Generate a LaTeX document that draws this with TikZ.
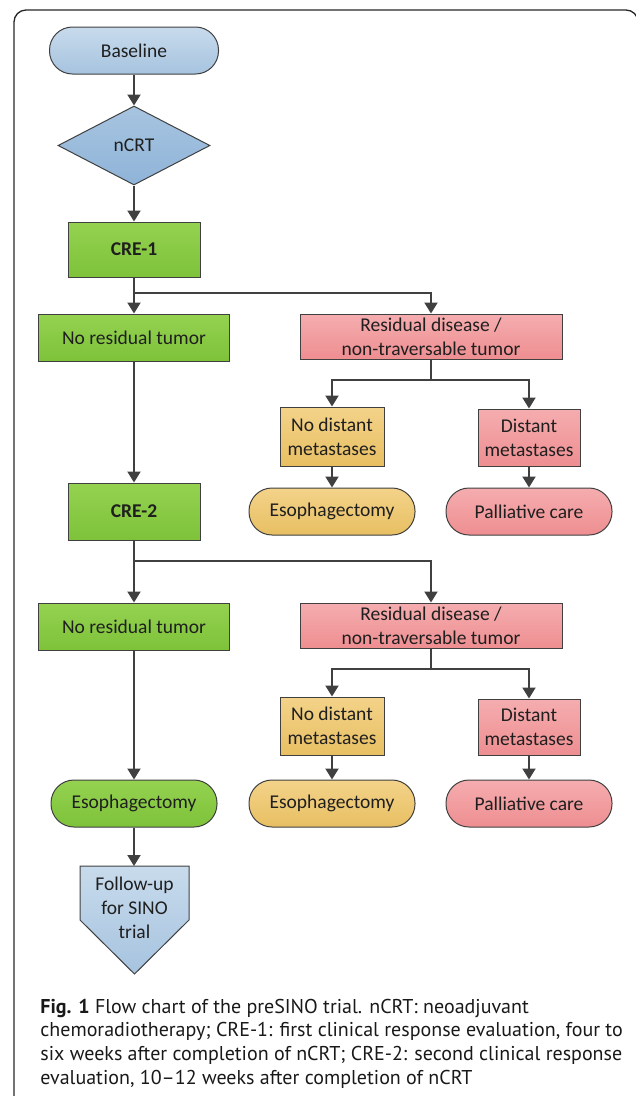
\documentclass[tikz,border=0pt]{standalone}
\usepackage{fontspec}
\setmainfont{Carlito}
\newfontfamily\capfont{PT Sans}
\usetikzlibrary{arrows.meta,shapes.geometric}

\definecolor{linegray}{HTML}{404040}
\definecolor{bluetop}{HTML}{C8DBEC}
\definecolor{bluebot}{HTML}{A6C3DF}
\definecolor{diatop}{HTML}{A7C4E0}
\definecolor{diabot}{HTML}{8FB4D8}
\definecolor{greentop}{HTML}{94D250}
\definecolor{greenbot}{HTML}{7EC23A}
\definecolor{redtop}{HTML}{F5ADAF}
\definecolor{redbot}{HTML}{EE8E91}
\definecolor{orangetop}{HTML}{F3D38A}
\definecolor{orangebot}{HTML}{E8BF62}

\begin{document}
\begin{tikzpicture}[x=1pt, y=-1pt, thick,
    font=\fontsize{19.5}{24}\selectfont,
    base/.style = {draw=linegray, line width=1pt, align=center, inner sep=2pt, text=black!88},
    pill/.style = {base, rounded corners=23pt, minimum width=166pt, minimum height=47pt},
    box/.style = {base, minimum height=47pt},
    blue/.style = {top color=bluetop, bottom color=bluebot},
    green/.style = {top color=greentop, bottom color=greenbot},
    red/.style = {top color=redtop, bottom color=redbot},
    orange/.style = {top color=orangetop, bottom color=orangebot},
    arr/.style = {draw=linegray, line width=2pt, -{Triangle[length=11pt,width=13pt]}},
    line/.style = {draw=linegray, line width=2pt}]
    \useasboundingbox (0,0) rectangle (636,1096);
    \draw[line width=1.3pt, rounded corners=12pt, black!85] (14,1110) -- (14,10) -- (638,10) -- (638,1110);

    % first evaluation
    \node[pill, blue, minimum width=169pt] (1) at (134,50.5) {Baseline};
    \node[base, diamond, aspect=2, minimum width=152pt, minimum height=79pt, top color=diatop, bottom color=diabot] (2) at (134,145.5) {nCRT};
    \node[box, green, minimum width=132pt, minimum height=55pt, font=\fontsize{19.5}{24}\selectfont\bfseries] (3) at (134,249.5) {CRE-1};
    \node[box, green, minimum width=191pt] (4) at (134,337.5) {No residual tumor};
    \node[box, red, minimum width=262pt, minimum height=45pt] (5) at (431,336.5) {Residual disease /\\non-traversable tumor};
    \node[box, orange, minimum width=104pt, minimum height=59pt] (6) at (332,436.5) {No distant\\metastases};
    \node[box, red, minimum width=102pt, minimum height=57pt] (7) at (529,437.5) {Distant\\metastases};
    \node[pill, orange] (8) at (332,511.5) {Esophagectomy};
    \node[pill, red] (9) at (529,511.5) {Palliative care};
    \coordinate (b1) at (134,293);
    \coordinate (b2) at (431,380);

    % second evaluation
    \node[box, green, minimum width=132pt, minimum height=57pt, font=\fontsize{19.5}{24}\selectfont\bfseries] (10) at (134,511.5) {CRE-2};
    \node[box, green, minimum width=191pt] (11) at (134,626.5) {No residual tumor};
    \node[box, red, minimum width=262pt, minimum height=45pt] (12) at (431,625.5) {Residual disease /\\non-traversable tumor};
    \node[box, orange, minimum width=104pt, minimum height=58pt] (13) at (332,726) {No distant\\metastases};
    \node[box, red, minimum width=102pt, minimum height=56pt] (14) at (529,727) {Distant\\metastases};
    \node[pill, orange] (15) at (332,803.5) {Esophagectomy};
    \node[pill, red] (16) at (529,803.5) {Palliative care};
    \node[pill, green] (17) at (134,803.5) {Esophagectomy};
    \coordinate (b3) at (134,561);
    \coordinate (b4) at (431,669);

    % follow-up
    \shade[top color=bluetop, bottom color=bluebot, draw=linegray, line width=1pt]
        (80,866) -- (189,866) -- (189,920) -- (134.5,974) -- (80,920) -- cycle;
    \coordinate (f) at (134,866);
    \node[align=center, inner sep=0pt, text=black!88] (18) at (134.5,907.5) {Follow-up\\for SINO\\trial};

    \draw[arr] (1) -- (2);
    \draw[arr] (2) -- (3);
    \draw[line] (3) -- (b1);
    \draw[arr] (b1) -- (4);
    \draw[arr] (b1) -| (5.north);
    \draw[line] (5) -- (b2);
    \draw[arr] (b2) -| (6.north);
    \draw[arr] (b2) -| (7.north);
    \draw[arr] (6) -- (8);
    \draw[arr] (7) -- (9);
    \draw[arr] (4) -- (10);
    \draw[line] (10) -- (b3);
    \draw[arr] (b3) -- (11);
    \draw[arr] (b3) -| (12.north);
    \draw[line] (12) -- (b4);
    \draw[arr] (b4) -| (13.north);
    \draw[arr] (b4) -| (14.north);
    \draw[arr] (13) -- (15);
    \draw[arr] (14) -- (16);
    \draw[arr] (11) -- (17);
    \draw[arr] (17) -- (f);

    \node[anchor=north west, align=left, inner sep=0pt, text=black!90,
          font=\capfont\fontsize{20}{23.7}\selectfont] (19) at (40,998.5)
        {\textbf{Fig. 1} Flow chart of the preSINO trial. nCRT: neoadjuvant\\
         chemoradiotherapy; CRE-1: first clinical response evaluation, four to\\
         six weeks after completion of nCRT; CRE-2: second clinical response\\
         evaluation, 10–12 weeks after completion of nCRT};
\end{tikzpicture}
\end{document}
